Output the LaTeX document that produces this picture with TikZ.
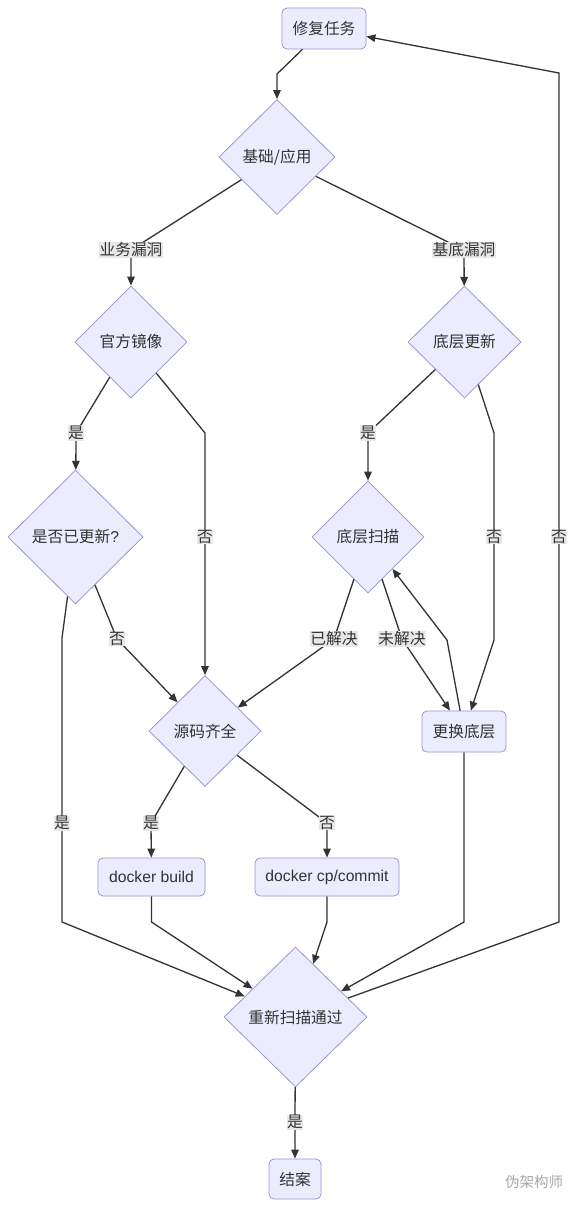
\documentclass[tikz,border=0pt]{standalone}
\usepackage{fontspec}
\setmainfont{Liberation Sans}
\newfontfamily\cjk{Noto Sans CJK SC}
\usetikzlibrary{shapes.geometric,arrows.meta}
\definecolor{nodefill}{HTML}{ECECFF}
\definecolor{nodedraw}{HTML}{9D8FD4}
\definecolor{linecol}{HTML}{333333}
\definecolor{lblbg}{HTML}{E8E8E8}
\definecolor{txt}{HTML}{333333}
\definecolor{wmgray}{HTML}{A8A8A8}
\begin{document}
\begin{tikzpicture}[x=1pt,y=-1pt,
  every node/.style={font=\fontsize{15.7}{18}\selectfont, text=txt},
  boxnode/.style={draw=nodedraw, fill=nodefill, line width=0.75pt, rounded corners=5pt, inner sep=0pt},
  decnode/.style={diamond, draw=nodedraw, fill=nodefill, line width=0.75pt, inner sep=0pt},
  lbl/.style={fill=lblbg, inner sep=0.6pt},
  conn/.style={draw=linecol, line width=1.3pt},
  arr/.style={conn, -{Triangle[length=9pt,width=7.5pt]}},
]
\fill[white] (0,0) rectangle (575,1208);
\useasboundingbox (0,0) rectangle (575,1208);

% nodes
\node[boxnode, minimum width=84pt, minimum height=41pt] (task) at (324,28.5) {\cjk 修复任务};
\node[decnode, minimum width=116pt, minimum height=115pt] (base) at (277,157) {\cjk 基础/应用};
\node[decnode, minimum width=112pt, minimum height=112pt] (official) at (131,342) {\cjk 官方镜像};
\node[decnode, minimum width=113pt, minimum height=112pt] (bottom) at (464.5,342) {\cjk 底层更新};
\node[decnode, minimum width=135pt, minimum height=134pt] (updated) at (75.5,537) {{\cjk 是否已更新}?};
\node[decnode, minimum width=112pt, minimum height=112pt] (scan) at (368,537) {\cjk 底层扫描};
\node[decnode, minimum width=112pt, minimum height=111pt] (src) at (205,731) {\cjk 源码齐全};
\node[boxnode, minimum width=84pt, minimum height=41pt] (replace) at (464,731.5) {\cjk 更换底层};
\node[boxnode, minimum width=107pt, minimum height=38pt] (build) at (151.5,877) {docker build};
\node[boxnode, minimum width=144pt, minimum height=38pt] (commit) at (327,877) {docker cp/commit};
\node[decnode, minimum width=143pt, minimum height=140pt] (rescan) at (295.5,1017) {\cjk 重新扫描通过};
\node[boxnode, minimum width=52pt, minimum height=40pt] (close) at (295,1179) {\cjk 结案};

% label positions
\coordinate (c1) at (131,250);
\coordinate (c2) at (464,250);
\coordinate (c3) at (76,433);
\coordinate (c4) at (205,537);
\coordinate (c5) at (368,433);
\coordinate (c6) at (494,537);
\coordinate (c7) at (117,639);
\coordinate (c8) at (62,823);
\coordinate (c9) at (334,639);
\coordinate (c10) at (402,639);
\coordinate (c11) at (151,823);
\coordinate (c12) at (327,823);
\coordinate (c13) at (559,537);
\coordinate (c14) at (295,1122);

% bend points
\coordinate (b1) at (277,74);
\coordinate (b4) at (205,433);
\coordinate (b6a) at (494,433);
\coordinate (b6b) at (494,640);
\coordinate (b8a) at (62,638);
\coordinate (b8b) at (62,922);
\coordinate (b12) at (447,640);
\coordinate (b15) at (151.5,922);
\coordinate (b16) at (327,922);
\coordinate (b17) at (464,922);
\coordinate (b18a) at (559,922);
\coordinate (b18b) at (559,73);

% connectors
\draw[arr] (task) -- (b1) -- (base);
\draw[arr] (base) -- (c1) -- (official);
\draw[arr] (base) -- (c2) -- (bottom);
\draw[arr] (official) -- (c3) -- (updated);
\draw[arr] (official) -- (b4) -- (c4) -- (src);
\draw[arr] (bottom) -- (c5) -- (scan);
\draw[arr] (bottom) -- (b6a) -- (c6) -- (b6b) -- (replace);
\draw[arr] (updated) -- (c7) -- (src);
\draw[arr] (updated) -- (b8a) -- (c8) -- (b8b) -- (rescan);
\draw[arr] (scan) -- (c9) -- (src);
\draw[arr] (scan) -- (c10) -- (replace);
\draw[arr] (replace) -- (b12) -- (scan);
\draw[arr] (src) -- (c11) -- (build);
\draw[arr] (src) -- (c12) -- (commit);
\draw[arr] (build) -- (b15) -- (rescan);
\draw[arr] (commit) -- (b16) -- (rescan);
\draw[arr] (replace) -- (b17) -- (rescan);
\draw[arr] (rescan) -- (b18a) -- (c13) -- (b18b) -- (task);
\draw[arr] (rescan) -- (c14) -- (close);

% edge labels
\node[lbl] (l1) at (c1) {\cjk 业务漏洞};
\node[lbl] (l2) at (c2) {\cjk 基底漏洞};
\node[lbl] (l3) at (c3) {\cjk 是};
\node[lbl] (l4) at (c4) {\cjk 否};
\node[lbl] (l5) at (c5) {\cjk 是};
\node[lbl] (l6) at (c6) {\cjk 否};
\node[lbl] (l7) at (c7) {\cjk 否};
\node[lbl] (l8) at (c8) {\cjk 是};
\node[lbl] (l9) at (c9) {\cjk 已解决};
\node[lbl] (l10) at (c10) {\cjk 未解决};
\node[lbl] (l11) at (c11) {\cjk 是};
\node[lbl] (l12) at (c12) {\cjk 否};
\node[lbl] (l13) at (c13) {\cjk 否};
\node[lbl] (l14) at (c14) {\cjk 是};

% watermark
\node[font=\fontsize{14.5}{16}\selectfont, text=wmgray] (wm) at (534,1182) {\cjk 伪架构师};
\end{tikzpicture}
\end{document}
